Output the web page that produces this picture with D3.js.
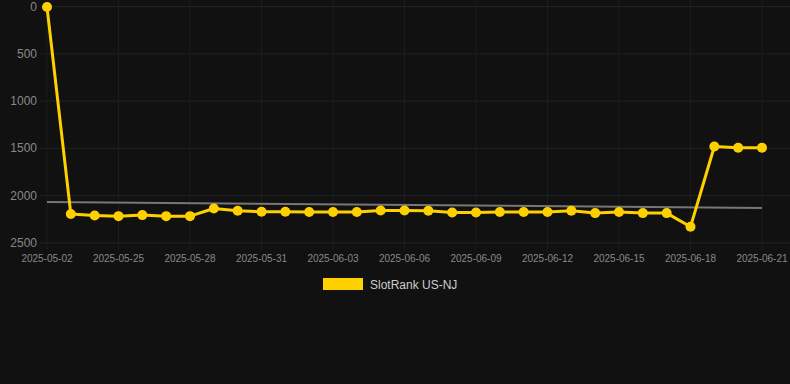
<!DOCTYPE html>
<html><head><meta charset="utf-8">
<script src="https://cdn.jsdelivr.net/npm/d3@7"></script>
<style>
html,body{margin:0;padding:0;background:#111111;}
svg{display:block;font-family:"Liberation Sans",Arial,sans-serif;}
</style></head>
<body><svg id="c" width="790" height="384"></svg>
<script>
const dates = ["2025-05-02","2025-05-23","2025-05-24","2025-05-25","2025-05-26","2025-05-27","2025-05-28","2025-05-29","2025-05-30","2025-05-31","2025-06-01","2025-06-02","2025-06-03","2025-06-04","2025-06-05","2025-06-06","2025-06-07","2025-06-08","2025-06-09","2025-06-10","2025-06-11","2025-06-12","2025-06-13","2025-06-14","2025-06-15","2025-06-16","2025-06-17","2025-06-18","2025-06-19","2025-06-20","2025-06-21"];
const ranks = [5,2194,2209,2216,2205,2216,2216,2135,2160,2170,2170,2173,2173,2173,2156,2156,2160,2178,2178,2173,2173,2173,2160,2184,2173,2184,2184,2329,1480,1494,1494];
const trendEnds = [2066,2130];
const yTicks = [0,500,1000,1500,2000,2500];
const xTickLabels = ["2025-05-02","2025-05-25","2025-05-28","2025-05-31","2025-06-03","2025-06-06","2025-06-09","2025-06-12","2025-06-15","2025-06-18","2025-06-21"];
const seriesName = "SlotRank US-NJ";

const svg = d3.select("#c");
const x = d3.scalePoint().domain(dates).range([47,762]);
const y = d3.scaleLinear().domain([0,2500]).range([6.5,243]);

const grid = svg.append("g");
yTicks.forEach(t=>{
  grid.append("line").attr("x1",40).attr("x2",790).attr("y1",y(t)).attr("y2",y(t))
    .attr("stroke","#222").attr("stroke-width",1);
});
const tickDates = dates.filter((d,i)=>i%3===0);
tickDates.forEach(d=>{
  grid.append("line").attr("x1",x(d)).attr("x2",x(d)).attr("y1",0).attr("y2",250)
    .attr("stroke","#1c1c1c").attr("stroke-width",1);
});

// y labels
svg.append("g").selectAll("text").data(yTicks).join("text")
  .attr("x",37).attr("y",d=>y(d)+4).attr("text-anchor","end")
  .attr("fill","#888").attr("font-size",12).text(d=>d);

// x labels
svg.append("g").selectAll("text").data(tickDates).join("text")
  .attr("x",d=>x(d)).attr("y",262).attr("text-anchor","middle")
  .attr("fill","#888").attr("font-size",10).text((d,i)=>xTickLabels[i]);

// trend
svg.append("line").attr("x1",x(dates[0])).attr("x2",x(dates[dates.length-1]))
  .attr("y1",y(trendEnds[0])).attr("y2",y(trendEnds[1]))
  .attr("stroke","#777").attr("stroke-width",2);

const color = "#FFD000";
const line = d3.line().x((d,i)=>x(dates[i])).y(d=>y(d));
svg.append("path").datum(ranks).attr("d",line).attr("fill","none")
  .attr("stroke",color).attr("stroke-width",3).attr("stroke-linejoin","round");
svg.append("g").selectAll("circle").data(ranks).join("circle")
  .attr("cx",(d,i)=>x(dates[i])).attr("cy",d=>y(d)).attr("r",5).attr("fill",color);

// legend
svg.append("rect").attr("x",323).attr("y",278).attr("width",40).attr("height",12).attr("fill",color);
svg.append("text").attr("x",370).attr("y",289).attr("fill","#ccc").attr("font-size",12).text(seriesName);
</script></body></html>
